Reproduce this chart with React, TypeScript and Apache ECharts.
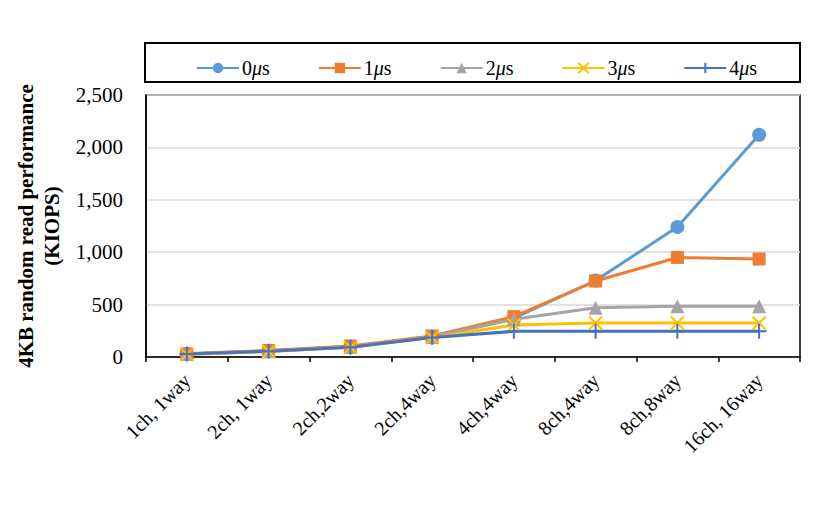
import React, { useEffect, useRef } from "react";
import * as echarts from "echarts";

const categories = ["1ch, 1way", "2ch, 1way", "2ch,2way", "2ch,4way", "4ch,4way", "8ch,4way", "8ch,8way", "16ch, 16way"];
const seriesNames = ["0μs", "1μs", "2μs", "3μs", "4μs"];
const s0 = [30, 60, 100, 195, 370, 730, 1240, 2120];
const s1 = [30, 62, 105, 200, 385, 725, 950, 935];
const s2 = [28, 55, 95, 190, 360, 470, 485, 485];
const s3 = [25, 52, 92, 185, 305, 325, 325, 325];
const s4 = [28, 55, 92, 185, 245, 245, 245, 245];
const yTicks = { min: 0, max: 2500, interval: 500 };

const colors = ["#5B9BD5", "#ED7D31", "#A5A5A5", "#FFC000", "#4472C4"];
const FONT = "Liberation Serif";

export default function App() {
  const ref = useRef<HTMLDivElement>(null);
  useEffect(() => {
    const chart = echarts.init(ref.current!, null, { renderer: "svg" });
    const symbols = [
      { symbol: "circle", size: 14 },
      { symbol: "rect", size: 13 },
      { symbol: "triangle", size: 14 },
      { symbol: "path://M0,0L10,10M10,0L0,10", size: 13 },
      { symbol: "path://M5,0L5,10M0,5L10,5", size: 15 },
    ];
    const data = [s0, s1, s2, s3, s4];
    const series = data.map((d, i) => ({
      name: seriesNames[i],
      type: "line",
      data: d,
      symbol: symbols[i].symbol,
      symbolSize: symbols[i].size,
      lineStyle: { width: 3, color: colors[i] },
      itemStyle: {
        color: colors[i],
        borderColor: colors[i],
        borderWidth: i >= 3 ? 2 : 0,
      },
      emphasis: { disabled: true },
    }));
    chart.setOption({
      animation: false,
      backgroundColor: "#fff",
      color: colors,
      textStyle: { fontFamily: FONT },
      graphic: [
        {
          type: "rect",
          shape: { x: 145, y: 43, width: 655, height: 39 },
          style: { fill: "none", stroke: "#000", lineWidth: 2 },
          silent: true,
        },
      ],
      legend: {
        left: 191,
        top: 53,
        itemWidth: 42,
        itemHeight: 13,
        itemGap: 48,
        data: seriesNames,
        formatter: (name: string) => `{a|${name[0]}}{i|μ}{a|s}`,
        textStyle: {
          fontFamily: FONT,
          fontSize: 19,
          color: "#000",
          padding: [0, 0, 0, -2],
          rich: {
            a: { fontFamily: FONT, fontSize: 20, color: "#000" },
            i: { fontFamily: FONT, fontSize: 20, color: "#000", fontStyle: "italic" },
          },
        },
      },
      grid: {
        left: 146,
        right: 30,
        top: 95,
        bottom: 150,
        show: true,
        borderColor: "#000",
        borderWidth: 1.5,
        containLabel: false,
      },
      xAxis: {
        type: "category",
        data: categories,
        boundaryGap: true,
        axisLine: { lineStyle: { color: "#000", width: 1.5 } },
        axisTick: { show: true, length: 5, lineStyle: { color: "#000", width: 1.5 } },
        axisLabel: {
          rotate: 45,
          interval: 0,
          margin: 20,
          fontFamily: FONT,
          fontSize: 20,
          color: "#000",
        },
        splitLine: { show: false },
      },
      yAxis: {
        type: "value",
        min: yTicks.min,
        max: yTicks.max,
        interval: yTicks.interval,
        name: "4KB random read performance\n(KIOPS)",
        nameLocation: "middle",
        nameRotate: 90,
        nameGap: 67,
        nameTextStyle: {
          fontFamily: FONT,
          fontSize: 21,
          fontWeight: "bold",
          color: "#000",
          lineHeight: 26,
        },
        axisLine: { show: true, lineStyle: { color: "#000", width: 1.5 } },
        axisTick: { show: false },
        axisLabel: {
          fontFamily: FONT,
          fontSize: 21,
          color: "#000",
          margin: 23,
          formatter: (v: number) => v.toLocaleString("en-US"),
        },
        splitLine: { lineStyle: { color: "#D9D9D9", width: 1.5 } },
      },
      series,
    });
    return () => chart.dispose();
  }, []);
  return <div ref={ref} style={{ width: 830, height: 507, position: "absolute", left: 0, top: 0 }} />;
}
